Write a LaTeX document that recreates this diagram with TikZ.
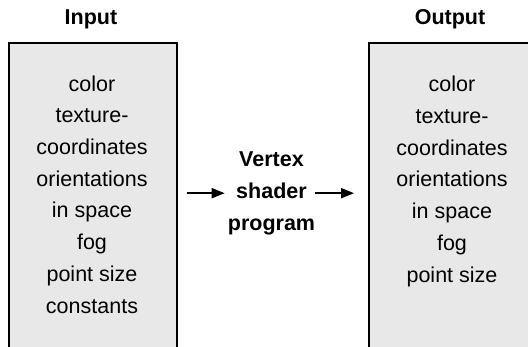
\documentclass[tikz,border=0pt]{standalone}
\usepackage{fontspec}
\setmainfont{Liberation Sans}
\usepackage{tikz}
\usetikzlibrary{arrows.meta, positioning}
\definecolor{BoxGray}{HTML}{E8E8E8}

\begin{document}
\begin{tikzpicture}[x=1pt, y=1pt, >={Triangle[length=13pt, width=10pt]},
  listbox/.style={draw=black, line width=1.6pt, fill=BoxGray, minimum width=168pt,
    minimum height=340pt, inner sep=0pt, anchor=north west},
  listtext/.style={align=center, inner sep=0pt, anchor=base,
    font={\fontsize{21.5}{31.7}\selectfont}},
  titletext/.style={listtext, font={\fontsize{21.5}{31.7}\selectfont\bfseries}},
  flow/.style={->, line width=2pt}]
  \useasboundingbox (0,0) rectangle (528,346);
  \clip (0,0) rectangle (528,346);
  % --- Input side ---
  \node[listbox] (inbox) at (8,304) {};
  \node[titletext] (intitle) at (91,321) {Input};
  \node[listtext] (inlist) at (92,33)
    {color\\texture-\\coordinates\\orientations\\in space\\fog\\point size\\constants};
  % --- Shader ---
  \node[titletext] (prog) at (271.5,116) {Vertex\\shader\\program};
  % --- Output side ---
  \node[listbox] (outbox) at (368,304) {};
  \node[titletext] (outtitle) at (450,321) {Output};
  \node[listtext] (outlist) at (452,64)
    {color\\texture-\\coordinates\\orientations\\in space\\fog\\point size};
  % --- Arrows ---
  \draw[flow, shorten <=9pt, shorten >=3pt] (inbox.east |- prog.west) -- (prog.west);
  \draw[flow, shorten >=14pt] (prog.east) -- (outbox.west |- prog.east);
\end{tikzpicture}
\end{document}
